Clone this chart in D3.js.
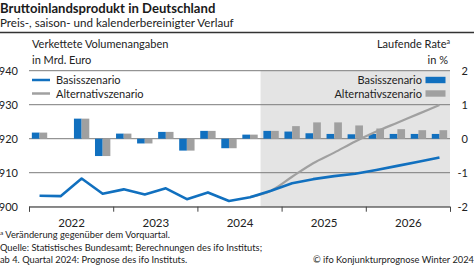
<!DOCTYPE html>
<html>
<head>
<meta charset="utf-8">
<script src="https://cdn.jsdelivr.net/npm/d3@7"></script>
<style>
  html, body { margin: 0; padding: 0; background: #fff; }
  svg { display: block; font-family: Lato, "Open Sans", sans-serif; }
</style>
</head>
<body>
<svg id="chart" width="474" height="266"></svg>
<script>
// ---- data ----
const quarters = ["2022Q1","2022Q2","2022Q3","2022Q4","2023Q1","2023Q2","2023Q3","2023Q4",
                  "2024Q1","2024Q2","2024Q3","2024Q4","2025Q1","2025Q2","2025Q3","2025Q4",
                  "2026Q1","2026Q2","2026Q3","2026Q4"];
const years = [2022, 2023, 2024, 2025, 2026];
// GDP level, bn euro (chained volumes)
const levelBase = [903.2, 903.1, 908.3, 903.8, 905.1, 903.6, 905.4, 902.2, 904.2, 901.7,
                   902.8, 904.7, 906.9, 908.1, 909.0, 909.7, 910.8, 912.0, 913.2, 914.5];
const levelAlt  = [null, null, null, null, null, null, null, null, null, null,
                   902.8, 904.7, 908.8, 912.8, 915.9, 919.2, 922.1, 924.7, 927.3, 929.9];
// quarter-on-quarter rate, %
const rateBase = [0.18, 0.0, 0.59, -0.51, 0.15, -0.14, 0.20, -0.35, 0.23, -0.28,
                  0.12, 0.23, 0.21, 0.16, 0.14, 0.13, 0.14, 0.14, 0.14, 0.14];
const rateAlt  = [0.18, 0.0, 0.59, -0.51, 0.15, -0.14, 0.20, -0.35, 0.23, -0.28,
                  0.12, 0.23, 0.37, 0.48, 0.48, 0.39, 0.30, 0.28, 0.25, 0.25];
const leftTicks = [900, 910, 920, 930, 940];
const rightTicks = [-2, -1, 0, 1, 2];
const forecastStart = "2024Q4";
const seriesNames = ["Basisszenario", "Alternativszenario"];

// ---- layout ----
const W = 474, H = 266;
const L = 29, R = 450, T = 70.7, B = 206.7;
const BLUE = "#1170bf", GREY = "#a0a0a0";
const svg = d3.select("#chart");

const x = d3.scaleBand().domain(quarters).range([L, R]).padding(0);
const xs = d3.scaleBand().domain(["base", "alt"]).range([0, x.bandwidth()]).paddingOuter(0.37).paddingInner(0);
const xYear = d3.scaleLinear().domain([2022, 2027]).range([L, R]);
const yL = d3.scaleLinear().domain([900, 940]).range([B, T]);
const yR = d3.scaleLinear().domain([-2, 2]).range([B, T]);

// title
svg.append("text").attr("x", 0).attr("y", 12.5).attr("font-weight", 700).attr("font-size", 13.1)
  .attr("fill", "#1a1a1a").text("Bruttoinlandsprodukt in Deutschland");
svg.append("text").attr("x", 0).attr("y", 27).attr("font-size", 11.6)
  .attr("fill", "#222").text("Preis-, saison- und kalenderbereinigter Verlauf");
svg.append("line").attr("x1", 0).attr("x2", W).attr("y1", 32.5).attr("y2", 32.5)
  .attr("stroke", "#333").attr("stroke-width", 1.5);

// forecast shading
svg.append("rect").attr("x", x(forecastStart)).attr("y", T)
  .attr("width", R - x(forecastStart)).attr("height", B - T).attr("fill", "#e4e4e4");

// gridlines
svg.append("g").selectAll("line").data(leftTicks).join("line")
  .attr("x1", L).attr("x2", R).attr("y1", d => yL(d)).attr("y2", d => yL(d))
  .attr("stroke", "#7c7c7c").attr("stroke-width", 1);

// axes labels
const axL = svg.append("g").attr("transform", `translate(${L},0)`)
  .call(d3.axisLeft(yL).tickValues(leftTicks).tickSize(0).tickPadding(11).tickFormat(d => String(d)));
const axR = svg.append("g").attr("transform", `translate(468,0)`)
  .call(d3.axisLeft(yR).tickValues(rightTicks).tickSize(0).tickPadding(0).tickFormat(d => String(d)));
[axL, axR].forEach(a => {
  a.select(".domain").remove();
  a.selectAll("text").attr("font-family", "Lato, sans-serif").attr("font-size", 11).attr("fill", "#222");
});

// bottom axis
const axB = svg.append("g").attr("transform", `translate(0,${B})`)
  .call(d3.axisBottom(xYear).tickValues([2022, 2023, 2024, 2025, 2026, 2027]).tickSize(5).tickFormat(""));
axB.select(".domain").attr("stroke", "#666");
axB.selectAll(".tick line").attr("stroke", "#444");
const axB2 = svg.append("g").attr("transform", `translate(0,${B})`)
  .call(d3.axisBottom(xYear).tickValues(years.map(y => y + 0.5)).tickSize(0).tickPadding(12)
        .tickFormat(d => String(Math.floor(d))));
axB2.select(".domain").remove();
axB2.selectAll("text").attr("font-family", "Lato, sans-serif").attr("font-size", 11.5).attr("fill", "#222");

// bars
const barData = [];
quarters.forEach((q, i) => {
  barData.push({ q, s: "base", v: rateBase[i] });
  barData.push({ q, s: "alt", v: rateAlt[i] });
});
svg.append("g").selectAll("rect").data(barData.filter(d => d.v !== 0)).join("rect")
  .attr("x", d => x(d.q) + xs(d.s))
  .attr("width", xs.bandwidth())
  .attr("y", d => yR(Math.max(0, d.v)))
  .attr("height", d => Math.abs(yR(d.v) - yR(0)))
  .attr("fill", d => d.s === "base" ? BLUE : GREY);

// lines
const line = d3.line().defined(d => d.v != null)
  .x(d => x(d.q) + x.bandwidth() / 2).y(d => yL(d.v)).curve(d3.curveMonotoneX);
svg.append("path").datum(quarters.map((q, i) => ({ q, v: levelAlt[i] })))
  .attr("d", line).attr("fill", "none").attr("stroke", GREY).attr("stroke-width", 2.2);
svg.append("path").datum(quarters.map((q, i) => ({ q, v: levelBase[i] })))
  .attr("d", d3.line().x(d => x(d.q) + x.bandwidth() / 2).y(d => yL(d.v)))
  .attr("fill", "none").attr("stroke", BLUE).attr("stroke-width", 2.6).attr("stroke-linejoin", "round");

// axis headers
const hdr = svg.append("g").attr("font-size", 11).attr("fill", "#222");
hdr.append("text").attr("x", 32).attr("y", 48).text("Verkettete Volumenangaben");
hdr.append("text").attr("x", 32).attr("y", 63.5).text("in Mrd. Euro");
const rt = hdr.append("text").attr("x", 450).attr("y", 48).attr("text-anchor", "end");
rt.append("tspan").text("Laufende Rate");
rt.append("tspan").attr("font-size", 7).attr("dy", -4).text("a");
hdr.append("text").attr("x", 448).attr("y", 63.5).attr("text-anchor", "end").text("in %");

// left legend (lines)
const lg = svg.append("g").attr("font-size", 11).attr("fill", "#222");
seriesNames.forEach((n, i) => {
  const yy = 80 + i * 13.5;
  lg.append("line").attr("x1", 32).attr("x2", 50).attr("y1", yy).attr("y2", yy)
    .attr("stroke", i === 0 ? BLUE : GREY).attr("stroke-width", 2.5);
  lg.append("text").attr("x", 56).attr("y", yy + 4).text(n);
});
// right legend (bars)
seriesNames.forEach((n, i) => {
  const yy = 80 + i * 13.5;
  lg.append("rect").attr("x", 425.5).attr("y", yy - 3.2).attr("width", 20).attr("height", 6.4)
    .attr("fill", i === 0 ? BLUE : GREY);
  lg.append("text").attr("x", 422).attr("y", yy + 4).attr("text-anchor", "end").text(n);
});

// footnotes
const fn = svg.append("g").attr("font-size", 9.3).attr("fill", "#222");
const f1 = fn.append("text").attr("x", 0).attr("y", 238);
f1.append("tspan").attr("font-size", 6.5).attr("dy", -3).text("a");
f1.append("tspan").attr("dy", 3).text(" Veränderung gegenüber dem Vorquartal.");
fn.append("text").attr("x", 0).attr("y", 250.5).text("Quelle: Statistisches Bundesamt; Berechnungen des ifo Instituts;");
fn.append("text").attr("x", 0).attr("y", 263).text("ab 4. Quartal 2024: Prognose des ifo Instituts.");
fn.append("text").attr("x", 474).attr("y", 263).attr("text-anchor", "end").text("© ifo Konjunkturprognose Winter 2024");
</script>
</body>
</html>
